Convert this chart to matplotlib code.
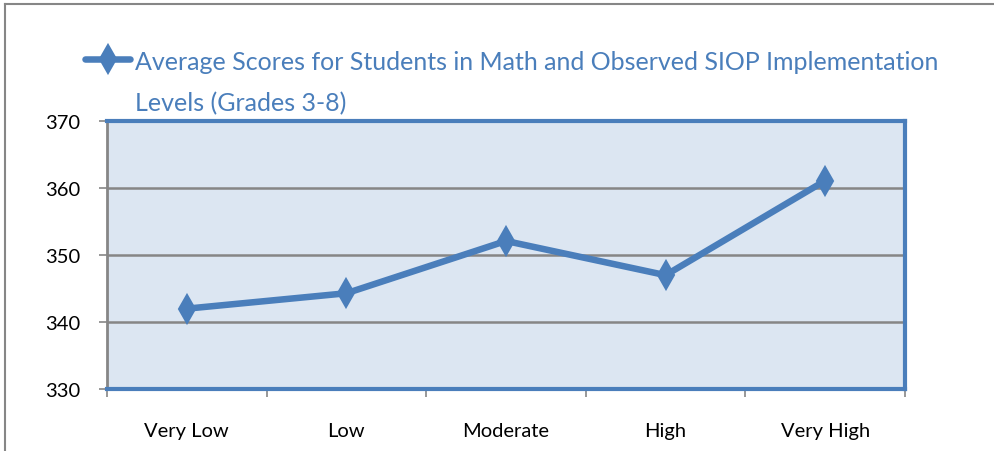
import numpy as np
import matplotlib.pyplot as plt
from matplotlib.lines import Line2D

levels = ['Very Low', 'Low', 'Moderate', 'High', 'Very High']
scores = [342.0, 344.3, 352.1, 347.0, 361.1]
yticks = [330, 340, 350, 360, 370]
label_lines = ['Average Scores for Students in Math and Observed SIOP Implementation',
               'Levels (Grades 3-8)']

blue = '#4A7EBB'
gray = '#868686'
plt.rcParams['font.family'] = ['Lato', 'DejaVu Sans']

fig = plt.figure(figsize=(9.95, 4.52), dpi=100)
ax = fig.add_axes([0.1075, 0.137, 0.802, 0.593])
ax.set_facecolor('#DCE6F2')

x = np.arange(len(levels))
ax.plot(x, scores, color=blue, lw=4.7, marker='d', ms=14, mew=1.5, mfc=blue, mec=blue,
        solid_joinstyle='miter')

ax.set_xlim(-0.5, len(levels) - 0.5)
ax.set_ylim(yticks[0], yticks[-1])
ax.set_yticks(yticks)
ax.set_xticks(x)
ax.set_xticklabels(levels)
ax.set_xticks(np.arange(len(levels) + 1) - 0.5, minor=True)
ax.tick_params(axis='x', which='major', length=0, pad=24, labelsize=14.5)
ax.tick_params(axis='x', which='minor', length=6, width=1.2, color=gray, direction='out')
ax.tick_params(axis='y', length=6, width=1.2, color=gray, labelsize=14.5, pad=13)

ax.grid(axis='y', color=gray, lw=1.8)
ax.set_axisbelow(True)
for side in ['top', 'right', 'bottom']:
    ax.spines[side].set_color(blue)
    ax.spines[side].set_linewidth(3)
ax.spines['left'].set_color(gray)
ax.spines['left'].set_linewidth(2)

# legend entry drawn by hand so the marker sits on the first text line
W, H = 995, 452
fig.add_artist(Line2D([85 / W, 130 / W], [1 - 60 / H, 1 - 60 / H], color=blue, lw=4.7,
                      transform=fig.transFigure, solid_capstyle='round'))
fig.add_artist(Line2D([108 / W], [1 - 60 / H], marker='d', ms=14, mew=1.5, color=blue,
                      transform=fig.transFigure))
fig.text(135 / W, 1 - 70 / H, label_lines[0], color=blue, fontsize=18, va='baseline')
fig.text(135 / W, 1 - 111 / H, label_lines[1], color=blue, fontsize=18, va='baseline')

# outer chart border
fig.add_artist(Line2D([0.005, 1.0], [0.989, 0.989], color=gray, lw=1.5, transform=fig.transFigure))
fig.add_artist(Line2D([0.005, 0.005], [0.0, 0.989], color=gray, lw=1.5, transform=fig.transFigure))

fig.savefig('out.png', dpi=100)
